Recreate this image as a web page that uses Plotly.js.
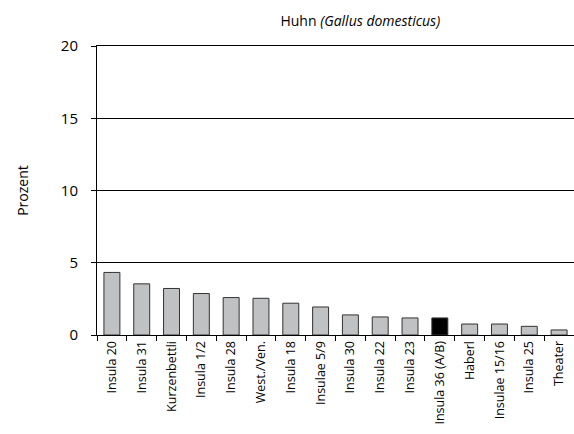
<!DOCTYPE html>
<html>
<head>
<meta charset="utf-8">
<script src="https://cdn.plot.ly/plotly-3.0.1.min.js"></script>
<style>html,body{margin:0;padding:0;background:#fff;}#chart{width:574px;height:434px;}</style>
</head>
<body>
<div id="chart"></div>
<script>
const categories = ["Insula 20","Insula 31","Kurzenbettli","Insula 1/2","Insula 28","West./Ven.","Insula 18","Insulae 5/9","Insula 30","Insula 22","Insula 23","Insula 36 (A/B)","Haberl","Insulae 15/16","Insula 25","Theater"];
const values = [4.33, 3.54, 3.22, 2.87, 2.59, 2.54, 2.2, 1.94, 1.39, 1.25, 1.18, 1.18, 0.76, 0.76, 0.6, 0.35];
const highlight = "Insula 36 (A/B)";
const yTicks = [0, 5, 10, 15, 20];

const colors = categories.map(c => c === highlight ? "#000000" : "#c0c1c3");

const font = "Open Sans, sans-serif";
const trace = {
  type: "bar",
  x: categories,
  y: values,
  marker: {color: colors, line: {color: "#333333", width: 1}},
  hoverinfo: "none"
};

const layout = {
  width: 574, height: 434,
  margin: {l: 97, r: 0, t: 46, b: 99, pad: 0},
  paper_bgcolor: "#fff", plot_bgcolor: "#fff",
  showlegend: false,
  bargap: 0.465,
  font: {family: font, color: "#000"},
  title: {
    text: "Huhn <i>(Gallus domesticus)</i>",
    font: {family: font, size: 14, color: "#000"},
    xref: "paper", x: 0.552, xanchor: "center",
    yref: "container", y: 0.951, yanchor: "middle"
  },
  xaxis: {
    type: "category",
    tickangle: -90,
    tickfont: {family: font, size: 12.5, color: "#000"},
    ticks: "outside", tickson: "boundaries", ticklen: 5, tickcolor: "#000", tickwidth: 1,
    showline: true, mirror: true, linecolor: "#000", linewidth: 1,
    showgrid: false, automargin: false
  },
  yaxis: {
    range: [0, 20],
    tickvals: yTicks,
    ticktext: yTicks.map(String),
    tickfont: {family: font, size: 15, color: "#000"},
    ticks: "outside", ticklen: 5, tickcolor: "#000", tickwidth: 1,
    ticklabelstandoff: 10,
    showline: true, linecolor: "#000", linewidth: 1,
    showgrid: true, gridcolor: "#000", gridwidth: 1,
    zeroline: false, automargin: false,
    title: {text: "Prozent", font: {family: font, size: 14, color: "#000"}, standoff: 28}
  }
};

Plotly.newPlot("chart", [trace], layout, {displayModeBar: false, staticPlot: true});
</script>
</body>
</html>
